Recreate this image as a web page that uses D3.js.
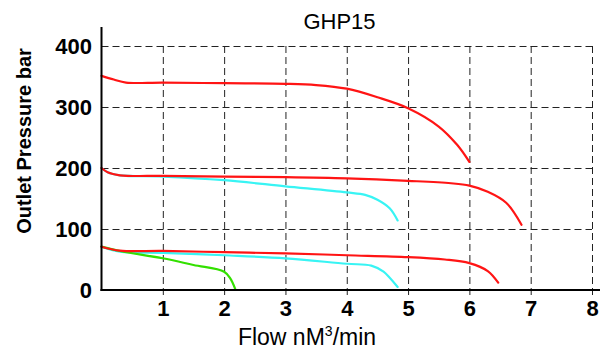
<!DOCTYPE html>
<html>
<head>
  <title>GHP15</title>
  <style>
    body { margin: 0; background: #fff; }
    svg { font-family: "Liberation Sans", Arial, sans-serif; }
    .grid line { stroke: #222; stroke-width: 1; stroke-dasharray: 7,4; }
    .grid path { display: none; }
    .axis path { display: none; }
    .axis text { font-size: 22px; font-weight: bold; fill: #000; }
    .curve { fill: none; stroke-width: 2.2; stroke-linejoin: round; stroke-linecap: round; }
  </style>
  <script src="https://d3js.org/d3.v7.min.js"></script>
</head>
<body>
  <div id="chart"></div>
  <script>
    const width = 600;
    const height = 351;

    const xTicks = [1, 2, 3, 4, 5, 6, 7, 8];
    const yTicks = [0, 100, 200, 300, 400];

    // flow (nM3/min) and outlet pressure (bar) per curve
    const redTopFlow = [0, 0.2, 0.4, 1, 2, 3, 3.5, 4, 4.5, 5, 5.5, 5.8, 6.0];
    const redTopPress = [351, 345, 340, 340, 339, 338, 336, 330, 316, 298, 268, 238, 210];

    const redMidFlow = [0, 0.1, 0.3, 1, 2, 3, 4, 5, 5.7, 6, 6.3, 6.6, 6.85];
    const redMidPress = [200, 193, 188, 187, 186, 185, 183, 179, 175, 171, 161, 143, 107];

    const cyanMidFlow = [0, 0.1, 0.3, 1, 2, 3, 4, 4.3, 4.5, 4.7, 4.83];
    const cyanMidPress = [200, 193, 188, 186, 180, 170, 160, 156, 148, 134, 114];

    const redLowFlow = [0, 0.3, 1, 2, 3, 4, 5, 5.6, 6, 6.3, 6.47];
    const redLowPress = [71, 64.5, 64, 62, 60, 57, 54, 50, 44, 31, 12];

    const cyanLowFlow = [0, 0.3, 1, 2, 3, 4, 4.4, 4.6, 4.83];
    const cyanLowPress = [71, 63, 61, 57, 52, 43, 40, 30, 5];

    const greenFlow = [0, 0.3, 1, 1.5, 2, 2.1, 2.18];
    const greenPress = [71, 64, 52, 41, 30, 19, 2];

    const series = [
      { flow: redTopFlow, press: redTopPress, color: "#ff1414" },
      { flow: cyanMidFlow, press: cyanMidPress, color: "#38f4f4" },
      { flow: redMidFlow, press: redMidPress, color: "#ff1414" },
      { flow: cyanLowFlow, press: cyanLowPress, color: "#38f4f4" },
      { flow: greenFlow, press: greenPress, color: "#33e000" },
      { flow: redLowFlow, press: redLowPress, color: "#ff1414" }
    ];

    const x = d3.scaleLinear().domain([0, 8]).range([101.5, 592]);
    const y = d3.scaleLinear().domain([0, 400]).range([290, 46]);

    const svg = d3.select("#chart")
      .append("svg")
      .attr("width", width)
      .attr("height", height);

    // gridlines
    svg.append("g")
      .attr("class", "grid")
      .attr("transform", `translate(${x(0)},0)`)
      .call(d3.axisLeft(y).tickValues(yTicks.slice(1)).tickSize(-(x(8) - x(0))).tickFormat(""));

    svg.append("g")
      .attr("class", "grid")
      .attr("transform", `translate(0,${y(0) + 5})`)
      .call(d3.axisBottom(x).tickValues(xTicks).tickSize(-(y(0) - y(400) + 5)).tickFormat(""));

    // curves
    const line = d3.line()
      .x(d => x(d[0]))
      .y(d => y(d[1]))
      .curve(d3.curveCatmullRom.alpha(0.5));

    svg.append("g")
      .selectAll("path")
      .data(series)
      .enter()
      .append("path")
      .attr("class", "curve")
      .attr("stroke", d => d.color)
      .attr("d", d => line(d.flow.map((f, i) => [f, d.press[i]])));

    // axis lines
    svg.append("line")
      .attr("x1", x(0)).attr("x2", x(0))
      .attr("y1", y(0) + 1).attr("y2", y(431))
      .attr("stroke", "#000").attr("stroke-width", 2);

    svg.append("line")
      .attr("x1", x(0) - 1).attr("x2", width)
      .attr("y1", y(0)).attr("y2", y(0))
      .attr("stroke", "#000").attr("stroke-width", 2);

    // tick labels
    svg.append("g")
      .attr("class", "axis")
      .attr("transform", `translate(${x(0)},0)`)
      .call(d3.axisLeft(y).tickValues(yTicks).tickSize(0).tickPadding(9.5));

    svg.append("g")
      .attr("class", "axis")
      .attr("transform", `translate(0,${y(0)})`)
      .call(d3.axisBottom(x).tickValues(xTicks).tickSize(0).tickPadding(10));

    // title and axis titles
    svg.append("text")
      .attr("x", 339.5)
      .attr("y", 29)
      .attr("text-anchor", "middle")
      .style("font-size", "22px")
      .text("GHP15");

    svg.append("text")
      .attr("transform", "translate(31,141) rotate(-90)")
      .attr("text-anchor", "middle")
      .style("font-size", "20px")
      .style("font-weight", "bold")
      .text("Outlet Pressure bar");

    const xt = svg.append("text")
      .attr("x", 307)
      .attr("y", 345)
      .attr("text-anchor", "middle")
      .style("font-size", "23px");
    xt.append("tspan").text("Flow nM");
    xt.append("tspan").attr("dy", -9).style("font-size", "14px").text("3");
    xt.append("tspan").attr("dy", 9).text("/min");
  </script>
</body>
</html>
